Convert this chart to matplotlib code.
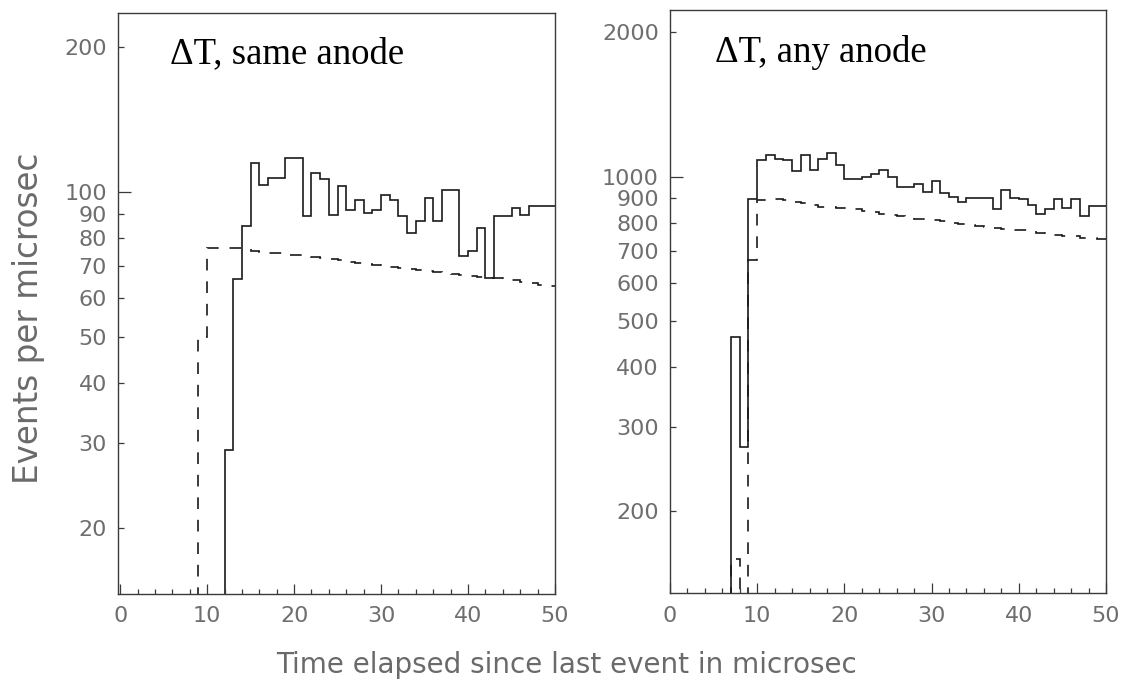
import numpy as np
import matplotlib
matplotlib.use("Agg")
import matplotlib.pyplot as plt

# Time bins (microsec), 1 microsec wide
time_edges = np.arange(0, 51, 1)

# Events per microsec, same anode: measured (solid) and expected (dashed)
same_measured = [0] * 12 + [
    29.0, 65.7, 84.7, 114.7, 103.4, 107.0, 107.0, 117.5, 117.5, 88.9,
    109.3, 106.3, 89.6, 102.6, 91.8, 96.2, 90.3, 91.8, 98.6, 96.2,
    88.9, 82.1, 86.8, 97.0, 86.8, 101.0, 101.0, 73.4, 75.2, 84.1,
    66.2, 88.9, 88.9, 92.5, 89.6, 93.2, 93.2, 93.2,
]
same_expected = [0] * 9 + [
    50.0, 76.5, 76.5, 76.5, 76.5, 76.2, 75.2, 75.0, 74.7, 74.4,
    74.0, 73.7, 73.4, 73.0, 72.7, 72.3, 72.0, 71.6, 71.2, 70.8,
    70.5, 70.2, 69.8, 69.4, 69.0, 68.6, 68.3, 68.0, 67.7, 67.3,
    67.0, 66.7, 66.5, 66.3, 66.1, 65.8, 65.4, 65.0, 64.5, 64.0,
    63.6,
]

# Events per microsec, any anode: measured (solid) and expected (dashed)
any_measured = [0] * 7 + [
    463, 273, 896, 1081, 1112, 1086, 1081, 1026, 1107, 1031,
    1086, 1121, 1055, 990, 990, 998, 1014, 1031, 998, 952,
    952, 967, 930, 978, 922, 908, 886, 900, 900, 900,
    854, 937, 900, 896, 872, 834, 854, 896, 858, 896,
    827, 868, 868,
]
any_expected = [0] * 7 + [
    159, 0, 670, 893, 895, 897, 895, 885, 879, 872,
    866, 862, 860, 858, 854, 848, 844, 836, 830, 826,
    821, 817, 814, 812, 806, 801, 798, 793, 790, 786,
    780, 777, 775, 772, 768, 764, 760, 756, 752, 750,
    746, 744, 740,
]

same_major = [100]
same_minor = [20, 30, 40, 50, 60, 70, 80, 90, 200]
any_major = [1000]
any_minor = [200, 300, 400, 500, 600, 700, 800, 900, 2000]
x_major = [0, 10, 20, 30, 40, 50]

panel_titles = ["\u0394T, same anode", "\u0394T, any anode"]
x_label = "Time elapsed since last event in microsec"
y_label = "Events per microsec"

LINE = "#1a1a1a"
SPINE = "#3a3a3a"
TICKTXT = "#6e6e6e"
LABELTXT = "#6a6a6a"

fig = plt.figure(figsize=(11.25, 6.88), dpi=100)
fig.patch.set_facecolor("white")

ax_l = fig.add_axes([118 / 1125, 1 - 594 / 688, 437 / 1125, 581 / 688])
ax_r = fig.add_axes([670 / 1125, 1 - 593 / 688, 436 / 1125, 583 / 688])

panels = [
    (ax_l, same_measured, same_expected, same_major, same_minor, (14.6, 235), (-0.25, 50.0)),
    (ax_r, any_measured, any_expected, any_major, any_minor, (135, 2228), (0.0, 50.0)),
]

for ax, meas, expc, ymaj, ymin, ylim, xlim in panels:
    ax.set_yscale("log", nonpositive="clip")
    ax.stairs(meas, time_edges, baseline=None, color=LINE, lw=1.2)
    ax.stairs(expc, time_edges, baseline=None, color=LINE, lw=1.2,
              linestyle=(0, (7, 6.5)))
    ax.set_ylim(*ylim)
    ax.set_xlim(*xlim)

    ax.set_yticks(ymaj, [str(v) for v in ymaj])
    ax.set_yticks(ymin, [str(v) for v in ymin], minor=True)
    ax.set_xticks(x_major, [str(v) for v in x_major])
    ax.set_xticks(np.arange(0, 51, 2), minor=True)
    ax.xaxis.set_minor_formatter(matplotlib.ticker.NullFormatter())

    ax.tick_params(axis="both", which="both", direction="in", colors=SPINE,
                   labelcolor=TICKTXT, labelsize=16, width=0.9,
                   top=False, right=False)
    ax.tick_params(axis="y", which="major", length=9, pad=8)
    ax.tick_params(axis="y", which="minor", length=4, pad=8)
    ax.tick_params(axis="x", which="major", length=7, pad=9)
    ax.tick_params(axis="x", which="minor", length=3.5, pad=9)
    for s in ax.spines.values():
        s.set_color(SPINE)
        s.set_linewidth(1.0)

fig.text(170 / 1125, 1 - 63 / 688, panel_titles[0], family="Liberation Serif",
         fontsize=26.5, color="black", ha="left", va="baseline")
fig.text(715 / 1125, 1 - 62 / 688, panel_titles[1], family="Liberation Serif",
         fontsize=26.5, color="black", ha="left", va="baseline")

fig.text(567 / 1125, 1 - 665 / 688, x_label, fontsize=20, color=LABELTXT,
         ha="center", va="center")
fig.text(29 / 1125, 1 - 318 / 688, y_label, fontsize=23.5, color=LABELTXT,
         ha="center", va="center", rotation=90)

fig.savefig("out.png", dpi=100, facecolor="white")
